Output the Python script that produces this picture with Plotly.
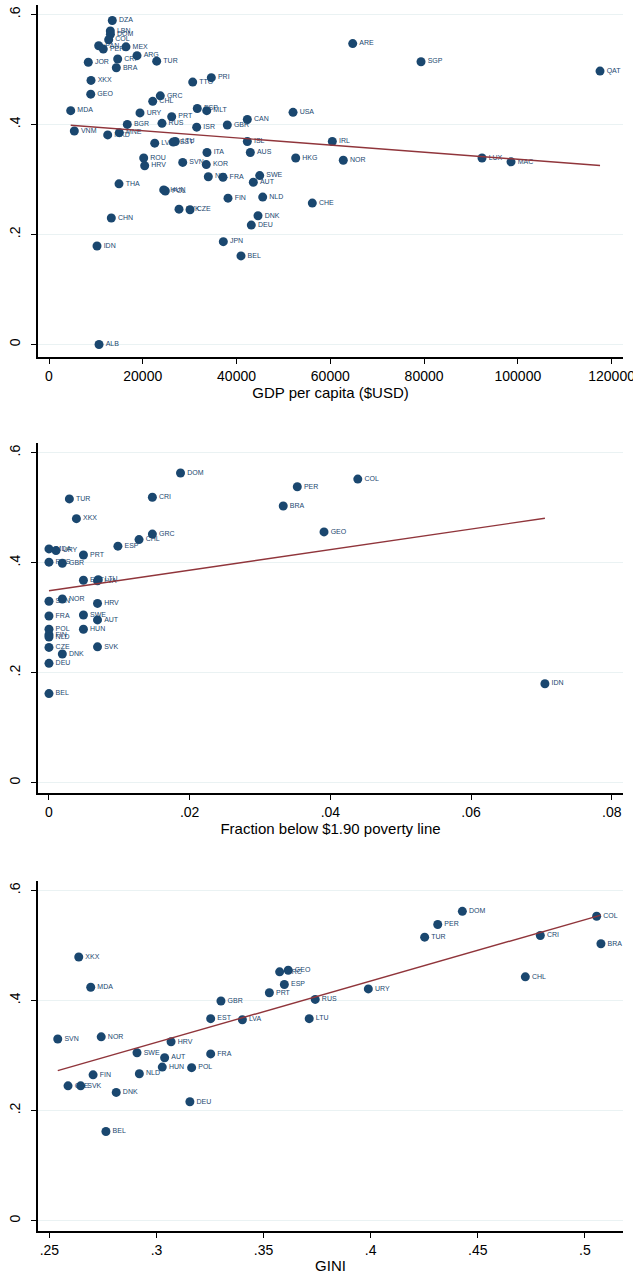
import numpy as np
import plotly.graph_objects as go

# ---------------- Data ----------------
# Panel 1: GDP per capita vs outcome
gdp_codes = ["DZA","LBN","DOM","COL","PAN","PER","MEX","ARG","CRI","TUR","JOR","BRA","XKX","PRI","TTO",
             "GEO","GRC","CHL","MDA","URY","PRT","ESP","MLT","BGR","RUS","ISR","VNM","CAN","GBR","USA",
             "ISL","AUS","ITA","LVA","EST","LTU","ROU","HRV","SVN","KOR","NZL","FRA","SWE","AUT","HUN",
             "POL","FIN","NLD","CHE","SVK","CZE","DNK","DEU","JPN","BEL","THA","CHN","IDN","MKD","MNE",
             "ARE","HKG","IRL","NOR","SGP","QAT","LUX","MAC","ALB"]
gdp_x = [13500,13080,13100,12730,10600,11580,16420,18770,14650,22970,8380,14360,8960,34620,30650,
         8900,23740,22120,4630,19410,26170,31630,33640,16700,24100,31500,5400,42300,38030,52050,
         42300,42940,33700,22550,26510,26940,20200,20410,28520,33550,33980,37110,44940,43580,24470,
         24810,38180,45580,56160,27730,30080,44580,43150,37180,40950,14930,13290,10240,12520,15000,
         64780,52620,60430,62770,79350,117530,92360,98550,10670]
gdp_y = [.589,.570,.564,.554,.543,.537,.541,.525,.519,.515,.513,.503,.480,.485,.477,
         .455,.452,.442,.425,.421,.414,.429,.425,.400,.402,.395,.388,.409,.399,.422,
         .369,.349,.349,.366,.368,.369,.339,.325,.331,.327,.305,.304,.307,.295,.281,
         .279,.266,.268,.257,.246,.245,.234,.217,.187,.161,.292,.230,.179,.381,.385,
         .547,.339,.369,.335,.514,.497,.339,.332,0.0]

# Panel 2: poverty fraction vs outcome
pov_codes = ["DOM","TUR","CRI","XKX","GRC","CHL","ESP","MDA","URY","PRT","RUS","GBR","EST","LVA","LTU",
             "SVN","NOR","HRV","FRA","SWE","AUT","HUN","POL","FIN","NLD","CZE","SVK","DNK","DEU","BEL",
             "PER","COL","BRA","GEO","IDN"]
pov_x = [.0187,.0029,.0147,.0039,.0147,.0128,.0098,0.0,.0010,.0049,0.0,.0019,.0049,.0069,.0070,
         0.0,.0019,.0069,0.0,.0049,.0069,.0049,0.0,0.0,0.0,0.0,.0069,.0019,0.0,0.0,
         .0353,.0439,.0333,.0391,.0705]
pov_y = [.563,.516,.519,.480,.452,.442,.430,.425,.422,.414,.401,.399,.368,.367,.369,
         .330,.334,.326,.303,.305,.296,.279,.279,.269,.265,.246,.247,.234,.217,.162,
         .538,.552,.503,.456,.180]

# Panel 3: GINI vs outcome
gini_codes = ["XKX","MDA","GBR","EST","LVA","SVN","NOR","HRV","SWE","AUT","FRA","HUN","POL","FIN","NLD",
              "CZE","SVK","DNK","DEU","BEL","GRC","GEO","ESP","PRT","RUS","URY","LTU","CHL","DOM","PER",
              "TUR","CRI","COL","BRA"]
gini_x = [.2637,.2693,.3301,.3253,.3401,.2539,.2742,.3068,.2909,.3038,.3253,.3027,.3164,.2704,.2920,
          .2587,.2646,.2812,.3156,.2764,.3575,.3615,.3597,.3527,.3741,.3989,.3713,.4722,.4428,.4313,
          .4252,.4792,.5055,.5075]
gini_y = [.479,.424,.399,.367,.365,.330,.334,.325,.305,.296,.303,.279,.278,.265,.267,
          .245,.245,.233,.216,.162,.452,.455,.429,.414,.402,.421,.367,.443,.562,.538,
          .515,.518,.553,.503]

y_tickvals = [0, .2, .4, .6]
y_ticktext = ["0", ".2", ".4", ".6"]
x1_tickvals = [0, 20000, 40000, 60000, 80000, 100000, 120000]
x1_ticktext = ["0", "20000", "40000", "60000", "80000", "100000", "120000"]
x2_tickvals = [0, .02, .04, .06, .08]
x2_ticktext = ["0", ".02", ".04", ".06", ".08"]
x3_tickvals = [.25, .3, .35, .4, .45, .5]
x3_ticktext = [".25", ".3", ".35", ".4", ".45", ".5"]
x_titles = ["GDP per capita ($USD)", "Fraction below $1.90 poverty line", "GINI"]

# ---------------- Style ----------------
W, H = 633, 1280
MARK = "#1a476f"
LINE = "#90353b"
GRID = "#eaf2f3"
FONT = "Liberation Sans, Arial, sans-serif"

x_left_px, x_right_px = 38, 623
panels_px = [(4.5, 357), (443, 793), (880.7, 1231)]  # (top, bottom) in pixels
x_ranges = [[-2346, 122430], [-0.00156, 0.0816], [0.24468, 0.5178]]
y_ranges = [[-0.0227, 0.618], [-0.0187, 0.6176], [-0.0187, 0.6176]]

fig = go.Figure()

datasets = [(gdp_x, gdp_y, gdp_codes), (pov_x, pov_y, pov_codes), (gini_x, gini_y, gini_codes)]
xticks = [(x1_tickvals, x1_ticktext), (x2_tickvals, x2_ticktext), (x3_tickvals, x3_ticktext)]

for i, (xs, ys, codes) in enumerate(datasets):
    sfx = "" if i == 0 else str(i + 1)
    xa, ya = "x" + sfx, "y" + sfx
    fig.add_trace(go.Scatter(
        x=xs, y=ys, text=codes, mode="markers+text", textposition="middle right",
        marker=dict(color=MARK, size=9, line=dict(width=0)),
        textfont=dict(color=MARK, size=7, family=FONT),
        cliponaxis=False, showlegend=False, xaxis=xa, yaxis=ya))
    xarr, yarr = np.array(xs), np.array(ys)
    b, a = np.polyfit(xarr, yarr, 1)
    lx = np.array([xarr.min(), xarr.max()])
    fig.add_trace(go.Scatter(
        x=lx, y=a + b * lx, mode="lines", line=dict(color=LINE, width=1.4),
        showlegend=False, xaxis=xa, yaxis=ya))

    top, bot = panels_px[i]
    tv, tt = xticks[i]
    fig.update_layout(**{
        "xaxis" + sfx: dict(
            domain=[x_left_px / W, x_right_px / W], anchor=ya, range=x_ranges[i],
            tickvals=tv, ticktext=tt, ticks="outside", ticklen=5, tickwidth=1.2,
            tickcolor="black", showline=True, linecolor="black", linewidth=1.6,
            showgrid=False, zeroline=False, automargin=False, ticklabeloverflow="allow",
            tickfont=dict(size=14, family=FONT, color="black"),
            title=dict(text=x_titles[i], font=dict(size=15, family=FONT, color="black"), standoff=4)),
        "yaxis" + sfx: dict(
            domain=[1 - bot / H, 1 - top / H], anchor=xa, range=y_ranges[i],
            tickvals=y_tickvals, ticktext=y_ticktext, ticks="outside", ticklen=5, tickwidth=1.2,
            tickcolor="black", showline=True, linecolor="black", linewidth=1.6,
            showgrid=True, gridcolor=GRID, gridwidth=1.2, zeroline=False, tickangle=-90,
            ticklabelstandoff=6, automargin=False, ticklabeloverflow="allow",
            tickfont=dict(size=14, family=FONT, color="black")),
    })

fig.update_layout(width=W, height=H, margin=dict(l=0, r=0, t=0, b=0),
                  paper_bgcolor="white", plot_bgcolor="white", showlegend=False)

fig.write_html("out.html", config={"displayModeBar": False},
               post_script="document.body.style.margin='0';"
                           "document.documentElement.style.overflow='hidden';"
                           "document.body.style.overflow='hidden';")
